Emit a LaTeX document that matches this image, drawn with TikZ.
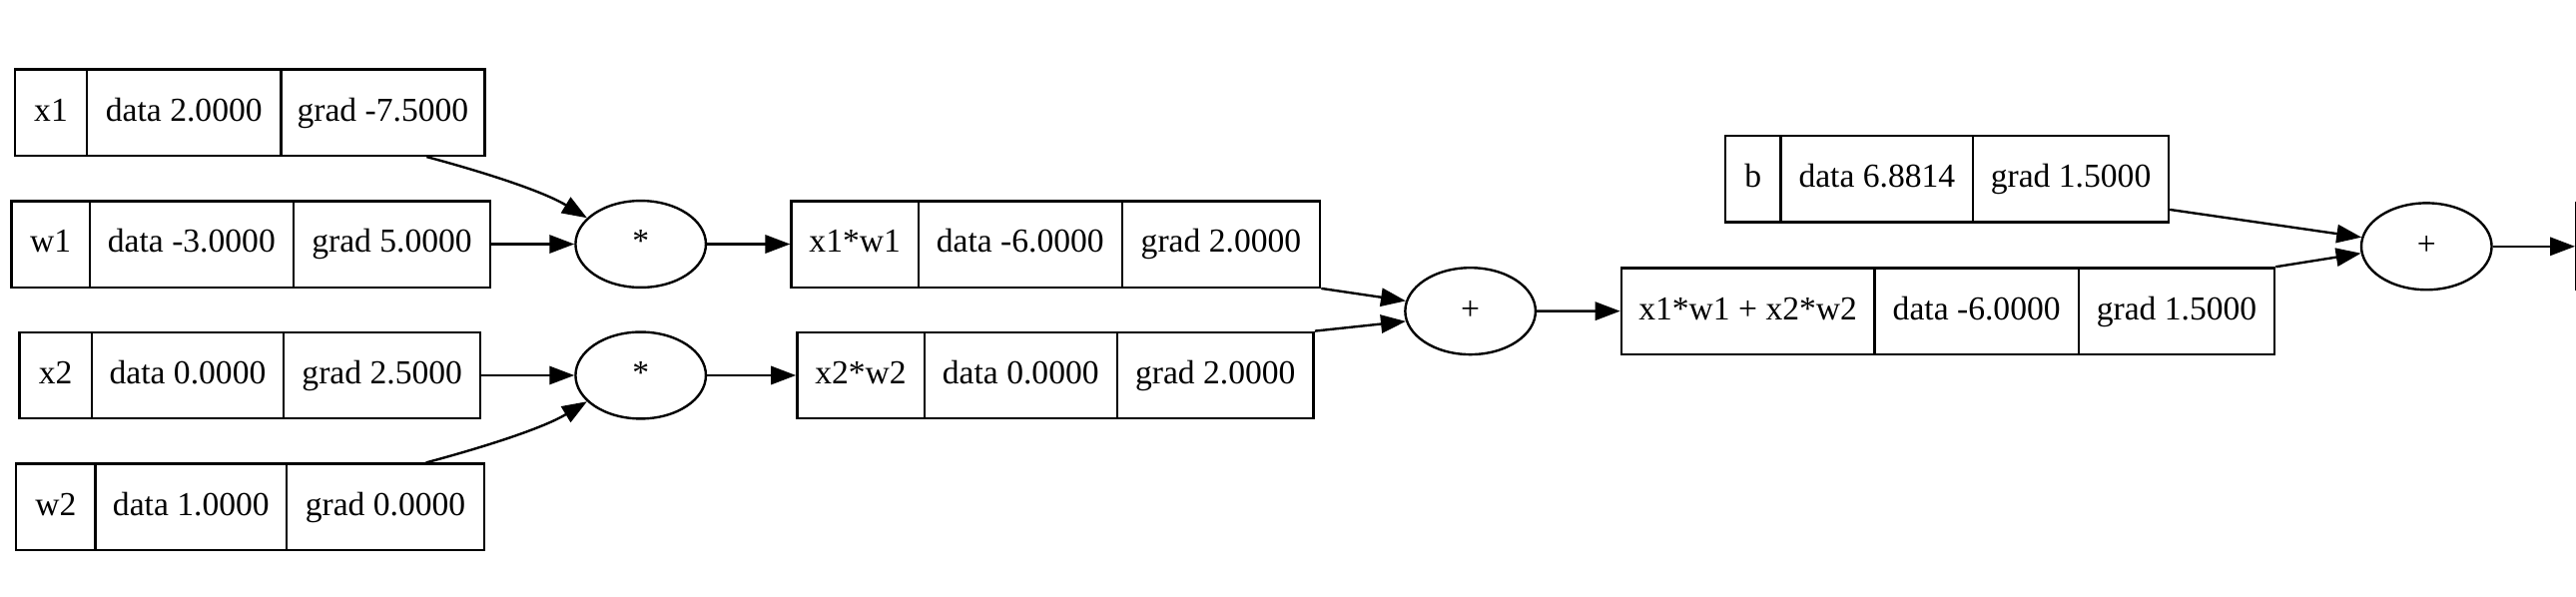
\documentclass[tikz,border=0pt]{standalone}
\usepackage{fontspec}
\setmainfont{Liberation Serif}
\usetikzlibrary{arrows.meta,shapes.geometric,fit,calc}
\tikzset{
  lw/.style={line width=1pt},
  fldtext/.style={inner sep=0pt, text height=10pt, text depth=3pt, font=\fontsize{14}{16}\selectfont},
  opnode/.style={draw, lw, ellipse, minimum width=54.4pt, minimum height=36.2pt, inner sep=0pt,
                 text height=10pt, text depth=3pt, font=\fontsize{14}{16}\selectfont},
  edge/.style={lw, -{Triangle[length=10.4pt,width=7.6pt]}},
}
% name, y-centre, x0, x1, x2, x3, text1, text2, text3
\newcommand{\recnode}[9]{%
  \node[draw, lw, inner sep=0pt, fit={(#3,#2-26.25) (#6,#2+26.25)}] (#1) {};
  \draw[lw] (#4,#2-26.25) -- (#4,#2+26.25) (#5,#2-26.25) -- (#5,#2+26.25);
  \node[fldtext] (#1-a) at ({(#3+#4)/2},#2) {#7};
  \node[fldtext] (#1-b) at ({(#4+#5)/2},#2) {#8};
  \node[fldtext] (#1-c) at ({(#5+#6)/2},#2) {#9};
}
\begin{document}
\begin{tikzpicture}[x=0.6857pt, y=-0.6857pt]
\useasboundingbox (0,0) rectangle (1568,363);
\clip (0,0) rectangle (1568,363);
\fill[white] (0,0) rectangle (1568,363);

\recnode{x1}{68.5}{9}{53}{171}{295}{x1}{data 2.0000}{grad -7.5000}
\recnode{w1}{148.6}{7}{54.6}{178.6}{298.5}{w1}{data -3.0000}{grad 5.0000}
\recnode{x2}{228.5}{11.8}{55.8}{172.7}{292.5}{x2}{data 0.0000}{grad 2.5000}
\recnode{w2}{308.6}{9.9}{58}{174.6}{294.6}{w2}{data 1.0000}{grad 0.0000}
\recnode{x1w1}{148.6}{481.7}{559}{683}{803.5}{x1*w1}{data -6.0000}{grad 2.0000}
\recnode{x2w2}{228.5}{485.2}{562.6}{680}{799.6}{x2*w2}{data 0.0000}{grad 2.0000}
\recnode{sum}{189.4}{986.9}{1141}{1265.3}{1384.5}{x1*w1 + x2*w2}{data -6.0000}{grad 1.5000}
\recnode{b}{109}{1050}{1084}{1201}{1320}{b}{data 6.8814}{grad 1.5000}

\node[opnode] (mul1) at (390,148.6) {*};
\node[opnode] (mul2) at (390,228.5) {*};
\node[opnode] (add1) at (895,189.4) {+};
\node[opnode] (add2) at (1477,150) {+};
\node[draw, lw, anchor=west, minimum width=150pt, minimum height=36pt] (out) at (1567.4,150) {};

\draw[edge] ($(x1.south east)+(-36,0)$) .. controls +(30,8) and +(-28,-17) .. (mul1.154);
\draw[edge] (w1.east) -- (mul1.west);
\draw[edge] (x2.east) -- (mul2.west);
\draw[edge] ($(w2.north east)+(-36,0)$) .. controls +(30,-8) and +(-28,17) .. (mul2.-154);
\draw[edge] (mul1.east) -- (x1w1.west);
\draw[edge] (mul2.east) -- (x2w2.west);
\draw[edge] (x1w1.south east) -- (add1.171);
\draw[edge] (x2w2.north east) -- (add1.-171);
\draw[edge] (add1.east) -- (sum.west);
\draw[edge] ($(b.east)+(0,18.6)$) -- (add2.172);
\draw[edge] (sum.north east) -- (add2.-174);
\draw[edge] (add2.east) -- (out.west);
\end{tikzpicture}
\end{document}
